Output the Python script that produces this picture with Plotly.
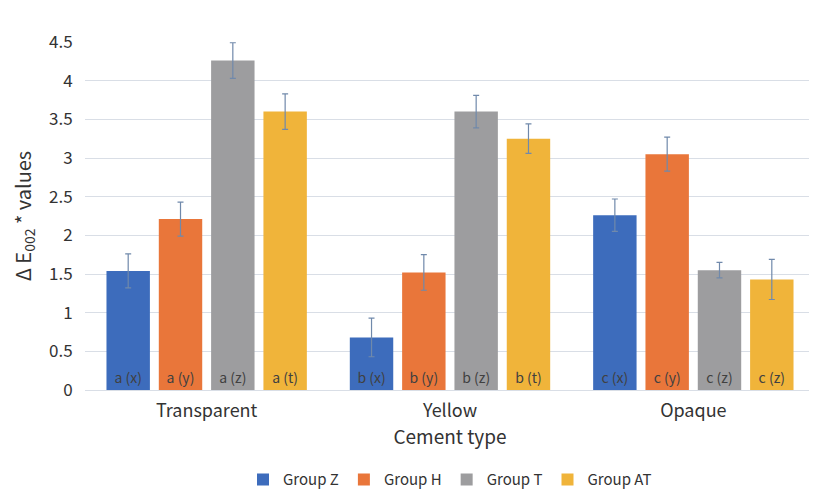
import plotly.graph_objects as go

categories = ["Transparent", "Yellow", "Opaque"]
groups = ["Group Z", "Group H", "Group T", "Group AT"]
values = {
    "Group Z": [1.54, 0.68, 2.26],
    "Group H": [2.21, 1.52, 3.05],
    "Group T": [4.26, 3.60, 1.55],
    "Group AT": [3.60, 3.25, 1.43],
}
errors = {
    "Group Z": [0.22, 0.25, 0.21],
    "Group H": [0.22, 0.23, 0.22],
    "Group T": [0.23, 0.21, 0.10],
    "Group AT": [0.23, 0.19, 0.26],
}
labels = {
    "Group Z": ["a (x)", "b (x)", "c (x)"],
    "Group H": ["a (y)", "b (y)", "c (y)"],
    "Group T": ["a (z)", "b (z)", "c (z)"],
    "Group AT": ["a (t)", "b (t)", "c (z)"],
}
colors = {
    "Group Z": "#3d6cbc",
    "Group H": "#e9763a",
    "Group T": "#9d9d9f",
    "Group AT": "#f0b43a",
}

FONT = "Noto Sans CJK KR"

fig = go.Figure()
for g in groups:
    fig.add_trace(go.Bar(
        name=g, x=categories, y=values[g],
        marker=dict(color=colors[g], line=dict(width=0)),
        error_y=dict(type="data", array=errors[g], color="#7089ab", thickness=1.2, width=3),
        text=labels[g], textposition="inside", insidetextanchor="start",
        textangle=0, constraintext="none",
        textfont=dict(family=FONT, size=14, color="#404040"),
    ))

fig.update_layout(
    barmode="group", bargap=0.14, bargroupgap=0.17,
    width=817, height=490,
    margin=dict(l=77, r=10, t=34, b=108, autoexpand=False),
    paper_bgcolor="white", plot_bgcolor="white",
    font=dict(family=FONT, color="#333333"),
    legend=dict(orientation="h", x=0.5, xanchor="center",
                yref="container", y=0.037, yanchor="middle",
                font=dict(family=FONT, size=15, color="#333333"),
                itemwidth=30, traceorder="normal"),
    xaxis=dict(
        title=dict(text="Cement type", font=dict(family=FONT, size=19, color="#333333"), standoff=8),
        tickfont=dict(family=FONT, size=18, color="#333333"),
        showline=True, linecolor="#d9dee6", linewidth=1,
        ticks="outside", ticklen=4, tickcolor="white",
        automargin=False,
    ),
    yaxis=dict(
        title=dict(text="Δ E<sub>002</sub> * values", font=dict(family=FONT, size=20, color="#333333"), standoff=14),
        range=[0, 4.5], dtick=0.5, tickformat="~g",
        tickfont=dict(family=FONT, size=17, color="#333333"),
        showgrid=True, gridcolor="#d9dee6", gridwidth=1, zeroline=False,
        ticks="outside", ticklen=8, tickcolor="white",
        automargin=False,
    ),
)

fig.write_html("out.html")
